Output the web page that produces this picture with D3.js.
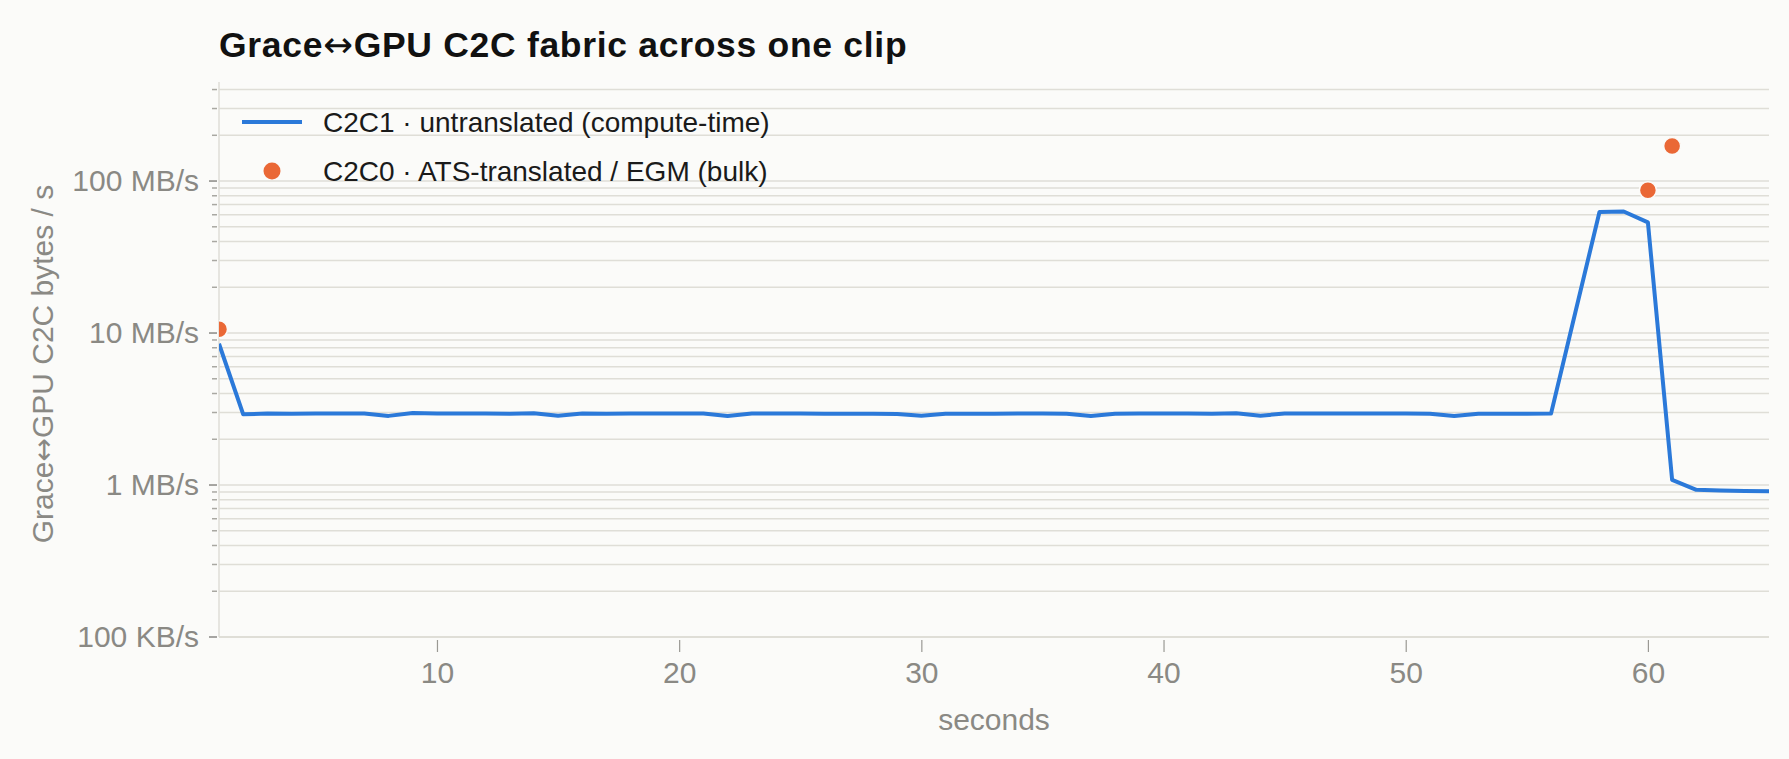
<!DOCTYPE html>
<html>
<head>
<meta charset="utf-8">
<script src="https://cdn.jsdelivr.net/npm/d3@7"></script>
<style>
  html, body { margin: 0; padding: 0; background: #fbfbf9; }
  svg { display: block; font-family: "Liberation Sans", Arial, Helvetica, sans-serif; }
</style>
</head>
<body>
<svg id="chart" width="1789" height="759"></svg>
<script>
// ---- data (MB/s) ----
const seconds = [1,2,3,4,5,6,7,8,9,10,11,12,13,14,15,16,17,18,19,20,21,22,23,24,25,26,27,28,29,30,31,32,33,34,35,36,37,38,39,40,41,42,43,44,45,46,47,48,49,50,51,52,53,54,55,56,57,58,59,60,61,62,63,64,65];
const c2c1MBs = [8.5,2.92,2.95,2.94,2.95,2.95,2.95,2.85,2.98,2.95,2.96,2.95,2.94,2.97,2.86,2.95,2.94,2.95,2.95,2.95,2.95,2.85,2.95,2.96,2.95,2.94,2.94,2.94,2.93,2.86,2.94,2.94,2.94,2.96,2.95,2.94,2.85,2.94,2.95,2.95,2.95,2.94,2.97,2.86,2.95,2.96,2.96,2.96,2.96,2.96,2.94,2.85,2.94,2.94,2.94,2.95,13.6,62.5,63,53.5,1.08,0.93,0.92,0.915,0.91];
const c2c0Seconds = [1, 60, 61];
const c2c0MBs = [10.6, 87, 170];
const xTickValues = [10, 20, 30, 40, 50, 60];
const yMajorTicks = [1e5, 1e6, 1e7, 1e8];
const yMajorLabels = ["100 KB/s", "1 MB/s", "10 MB/s", "100 MB/s"];
const legendLabels = ["C2C1 \u00b7 untranslated (compute-time)", "C2C0 \u00b7 ATS-translated / EGM (bulk)"];
const titleParts = ["Grace", "\u2194", "GPU C2C fabric across one clip"];
const yAxisTitleParts = ["Grace", "\u2194", "GPU C2C bytes / s"];
const xAxisTitle = "seconds";

// ---- layout ----
const W = 1789, H = 759;
const m = { left: 219, right: 20, top: 84, bottom: 122 };
const plotR = W - m.right, plotB = H - m.bottom;
const lineColor = "#2b79d9", dotColor = "#ea6836";
const gridColor = "#dfded7", textGray = "#8a8984";

const svg = d3.select("#chart");
svg.append("rect").attr("width", W).attr("height", H).attr("fill", "#fbfbf9");

const x = d3.scaleLinear().domain([1, 65]).range([m.left, plotR]);
const y = d3.scaleLog().domain([1e5, 4.35e8]).range([plotB, m.top]);

const allTicks = y.ticks().filter(v => v >= 1e5 && v <= 4.35e8);

// gridlines
svg.append("g").selectAll("line").data(allTicks).join("line")
  .attr("x1", m.left).attr("x2", plotR)
  .attr("y1", d => y(d)).attr("y2", d => y(d))
  .attr("stroke", gridColor).attr("stroke-width", 1.5);

// axis lines
svg.append("line").attr("x1", m.left).attr("x2", m.left)
  .attr("y1", m.top - 2).attr("y2", plotB)
  .attr("stroke", gridColor).attr("stroke-width", 1.5);
svg.append("line").attr("x1", m.left).attr("x2", plotR)
  .attr("y1", plotB).attr("y2", plotB)
  .attr("stroke", gridColor).attr("stroke-width", 2);

// y ticks
const isMajor = v => yMajorTicks.some(t => Math.abs(t - v) / t < 1e-9);
svg.append("g").selectAll("line").data(allTicks).join("line")
  .attr("x1", d => isMajor(d) ? m.left - 10 : m.left - 7).attr("x2", m.left - 2)
  .attr("y1", d => y(d)).attr("y2", d => y(d))
  .attr("stroke", d => isMajor(d) ? "#8a8984" : "#a9a8a2").attr("stroke-width", 1.5);

const yAxis = d3.axisLeft(y).tickValues(yMajorTicks)
  .tickFormat((d, i) => yMajorLabels[i]).tickSize(0).tickPadding(20);
const gy = svg.append("g").attr("transform", `translate(${m.left},0)`).call(yAxis);
gy.select(".domain").remove();
gy.selectAll("text").attr("fill", textGray).attr("font-size", 30)
  .attr("font-family", "Liberation Sans, Arial, sans-serif");

// x ticks
const xAxis = d3.axisBottom(x).tickValues(xTickValues).tickSize(12).tickPadding(10);
const gx = svg.append("g").attr("transform", `translate(0,${plotB + 3})`).call(xAxis);
gx.select(".domain").remove();
gx.selectAll("line").attr("stroke", "#9a9994").attr("stroke-width", 1.2);
gx.selectAll("text").attr("fill", textGray).attr("font-size", 30)
  .attr("font-family", "Liberation Sans, Arial, sans-serif");

// clip
svg.append("clipPath").attr("id", "plotclip").append("rect")
  .attr("x", m.left).attr("y", m.top - 20).attr("width", plotR - m.left).attr("height", plotB - m.top + 20);
const plot = svg.append("g").attr("clip-path", "url(#plotclip)");

const lineData = seconds.map((s, i) => [s, c2c1MBs[i] * 1e6]);
plot.append("path").datum(lineData)
  .attr("fill", "none").attr("stroke", lineColor).attr("stroke-width", 4)
  .attr("stroke-linejoin", "round")
  .attr("d", d3.line().x(d => x(d[0])).y(d => y(d[1])));

const dotData = c2c0Seconds.map((s, i) => [s, c2c0MBs[i] * 1e6]);
plot.append("g").selectAll("circle").data(dotData).join("circle")
  .attr("cx", d => x(d[0])).attr("cy", d => y(d[1])).attr("r", 8.5)
  .attr("fill", dotColor).attr("stroke", "#fbfbf9").attr("stroke-width", 1.5);

// title
const tt = svg.append("text").attr("x", 219).attr("y", 57)
  .attr("font-size", 35.5).attr("font-weight", "bold").attr("fill", "#111")
  .attr("letter-spacing", 0.7);
tt.append("tspan").text(titleParts[0]);
tt.append("tspan").attr("font-family", "DejaVu Sans").attr("font-weight", "normal").text(titleParts[1]);
tt.append("tspan").text(titleParts[2]);

// axis titles
svg.append("text").attr("x", (m.left + plotR) / 2).attr("y", 730)
  .attr("text-anchor", "middle").attr("font-size", 30).attr("fill", textGray)
  .text(xAxisTitle);
const yt = svg.append("text")
  .attr("transform", `translate(53,364) rotate(-90)`)
  .attr("text-anchor", "middle").attr("font-size", 30).attr("fill", textGray);
yt.append("tspan").text(yAxisTitleParts[0]);
yt.append("tspan").attr("font-family", "DejaVu Sans").attr("font-size", 28).text(yAxisTitleParts[1]);
yt.append("tspan").text(yAxisTitleParts[2]);

// legend
const lg = svg.append("g");
lg.append("line").attr("x1", 242).attr("x2", 302).attr("y1", 122).attr("y2", 122)
  .attr("stroke", lineColor).attr("stroke-width", 4);
lg.append("text").attr("x", 323).attr("y", 132).attr("font-size", 28).attr("fill", "#1a1a1a")
  .text(legendLabels[0]);
lg.append("circle").attr("cx", 272).attr("cy", 171).attr("r", 8.5).attr("fill", dotColor);
lg.append("text").attr("x", 323).attr("y", 181).attr("font-size", 28).attr("fill", "#1a1a1a")
  .text(legendLabels[1]);
</script>
</body>
</html>
